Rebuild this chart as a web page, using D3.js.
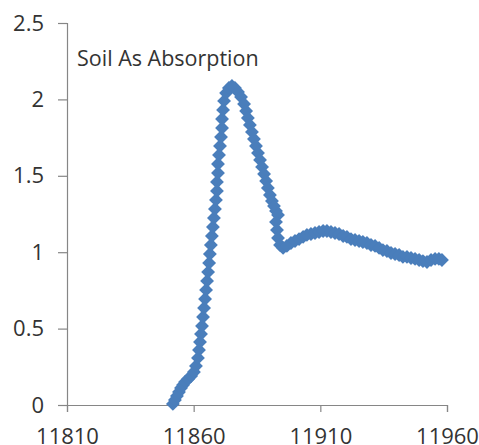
<!DOCTYPE html>
<html>
<head>
<meta charset="utf-8">
<script src="https://cdn.jsdelivr.net/npm/d3@7"></script>
<style>
html,body{margin:0;padding:0;background:#fff;}
svg{display:block;}
text{font-family:"Open Sans",sans-serif;fill:#333;}
</style>
</head>
<body>
<svg id="chart" width="479" height="445"></svg>
<script>
// ---- data ----
const title = "Soil As Absorption";
const xTicks = [11810, 11860, 11910, 11960];
const yTicks = [0, 0.5, 1, 1.5, 2, 2.5];
const energy = [
  11851.8, 11852.6, 11853.4, 11854.2, 11855.0, 11855.8, 11856.6, 11857.8, 11859.0, 11860.1,
  11860.9, 11861.7, 11862.1, 11862.5, 11862.9, 11863.3, 11863.7, 11864.1, 11864.5, 11864.9,
  11865.3, 11865.7, 11866.1, 11866.4, 11866.8, 11867.2, 11867.6, 11868.0, 11868.4, 11868.8,
  11869.2, 11869.2, 11869.6, 11869.6, 11870.0, 11870.4, 11870.8, 11871.2, 11871.2, 11871.6,
  11872.0, 11872.8, 11873.9, 11875.1, 11876.3, 11877.5,
  11878.7, 11879.9, 11880.7, 11881.4, 11882.2, 11883.0, 11883.8, 11884.6, 11885.4, 11886.2,
  11887.0, 11887.8, 11888.6, 11889.3, 11890.1, 11890.9, 11891.7, 11892.5, 11893.3,
  11892.5, 11892.9, 11893.3, 11894.1, 11895.3,
  11896.8, 11898.4, 11900.0, 11901.6, 11903.2, 11904.7, 11906.3, 11907.9, 11909.5, 11911.1,
  11912.6, 11914.2, 11915.8, 11917.4, 11919.0, 11920.5, 11922.1, 11923.7, 11925.3, 11926.8,
  11928.4, 11930.0, 11931.6, 11933.2, 11934.7, 11936.3, 11937.9, 11939.5, 11941.1, 11942.6,
  11944.2, 11945.8, 11947.4, 11949.0, 11950.5, 11952.1, 11953.7, 11955.3, 11956.8, 11958.0
];
const absorption = [
  0.007, 0.033, 0.059, 0.085, 0.111, 0.131, 0.151, 0.170, 0.190, 0.216,
  0.255, 0.308, 0.360, 0.412, 0.465, 0.517, 0.576, 0.635, 0.694, 0.753,
  0.812, 0.870, 0.929, 0.988, 1.047, 1.106, 1.165, 1.224, 1.283, 1.342,
  1.401, 1.460, 1.518, 1.577, 1.636, 1.695, 1.754, 1.813, 1.872, 1.931,
  1.990, 2.042, 2.075, 2.088, 2.075, 2.049,
  2.016, 1.970, 1.924, 1.878, 1.833, 1.787, 1.741, 1.695, 1.649, 1.604,
  1.558, 1.512, 1.466, 1.420, 1.374, 1.335, 1.302, 1.270, 1.244,
  1.198, 1.145, 1.093, 1.047, 1.028,
  1.041, 1.060, 1.073, 1.086, 1.100, 1.113, 1.119, 1.126, 1.132, 1.139,
  1.139, 1.132, 1.126, 1.119, 1.106, 1.100, 1.086, 1.080, 1.073, 1.067,
  1.060, 1.047, 1.041, 1.028, 1.014, 1.008, 0.995, 0.988, 0.982, 0.969,
  0.969, 0.962, 0.956, 0.949, 0.942, 0.936, 0.949, 0.956, 0.956, 0.949
];
const points = energy.map((e, i) => ({x: e, y: absorption[i]}));

// ---- layout ----
const svg = d3.select("#chart");
const mLeft = 67, mRight = 447, mTop = 23, mBottom = 405;
const axisColor = "#868686";
const seriesColor = "#4A7EBB";
const textColor = "#333";

const x = d3.scaleLinear().domain([11810, 11960]).range([mLeft, mRight]);
const y = d3.scaleLinear().domain([0, 2.5]).range([mBottom, mTop]);

// y axis
const yAxis = d3.axisLeft(y).tickValues(yTicks).tickSize(9).tickPadding(14)
  .tickFormat(d => String(d));
const gy = svg.append("g").attr("transform", `translate(${mLeft},0)`).call(yAxis);
gy.select(".domain").attr("stroke", axisColor).attr("stroke-width", 1.2);
gy.selectAll(".tick line").attr("stroke", axisColor).attr("stroke-width", 1.2);
gy.selectAll(".tick text").attr("font-size", 22).attr("font-family", "'Open Sans',sans-serif")
  .attr("fill", textColor);

// x axis
const xAxis = d3.axisBottom(x).tickValues(xTicks).tickSize(7).tickPadding(16)
  .tickFormat(d => String(d));
const gx = svg.append("g").attr("transform", `translate(0,${mBottom})`).call(xAxis);
gx.select(".domain").attr("stroke", axisColor).attr("stroke-width", 1.2);
gx.selectAll(".tick line").attr("stroke", axisColor).attr("stroke-width", 1.2);
gx.selectAll(".tick text").attr("font-size", 22).attr("font-family", "'Open Sans',sans-serif")
  .attr("fill", textColor);

// line
const line = d3.line().x(d => x(d.x)).y(d => y(d.y));
svg.append("path").datum(points)
  .attr("d", line).attr("fill", "none")
  .attr("stroke", seriesColor).attr("stroke-width", 3);

// markers
const diamond = d3.symbol().type(d3.symbolSquare).size(96);
svg.append("g").selectAll("path").data(points).join("path")
  .attr("d", diamond)
  .attr("transform", d => `translate(${x(d.x)},${y(d.y)}) rotate(45)`)
  .attr("fill", seriesColor);

// title
svg.append("text").attr("x", 77).attr("y", 66)
  .attr("font-size", 21.5).attr("fill", textColor).text(title);
</script>
</body>
</html>
